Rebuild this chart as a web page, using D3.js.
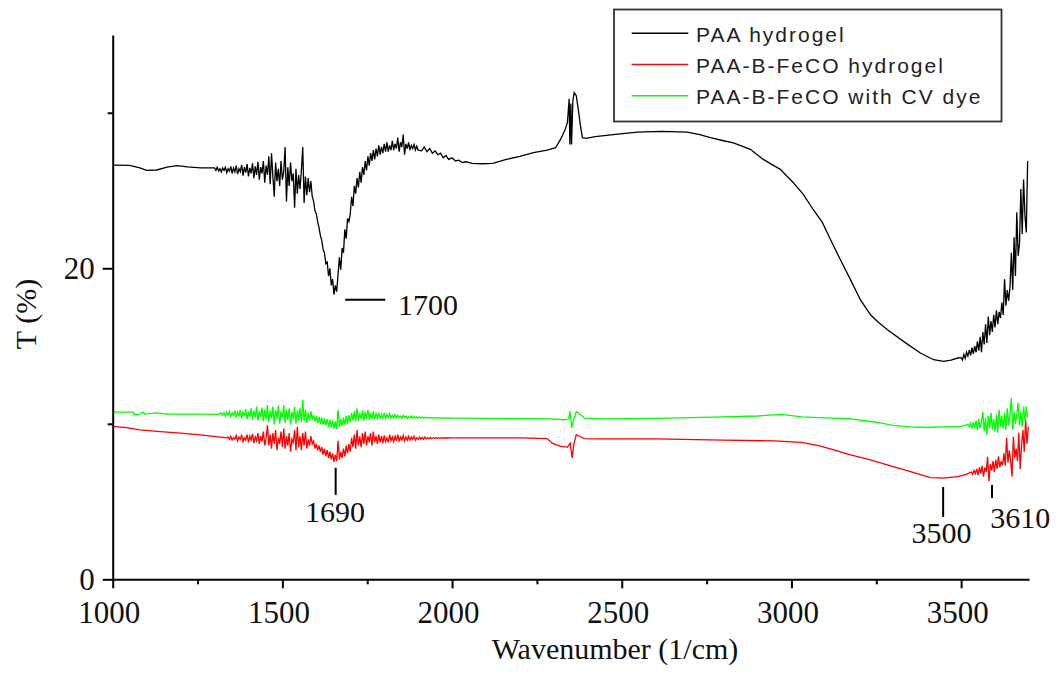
<!DOCTYPE html>
<html>
<head>
<meta charset="utf-8">
<script src="https://cdn.jsdelivr.net/npm/d3@7"></script>
<style>
  body { margin: 0; background: #fff; }
  svg { display: block; }
</style>
</head>
<body>
<svg id="drawing_region"></svg>
<script>
// FTIR spectra.
// smooth stretches: [wavenumber (1/cm), T (%)]; noisy stretches: runs sampled every `step` 1/cm
const paaPoints = [
  [1000,26.63],[1050,26.62],[1080,26.45],[1100,26.3],[1130,26.32],[1160,26.5],[1190,26.6],[1220,26.52],[1260,26.45],[1290,26.45],
  [1910,27.55],[1918,27.8],[1926,27.5],[1934,27.7],[1942,27.4],[1950,27.55],[1958,27.3],[1966,27.4],[1974,27.1],[1982,27.25],
  [1990,27.0],[2000,27.1],[2010,26.9],[2020,26.95],[2030,26.8],[2040,26.85],[2060,26.75],[2090,26.72],[2120,26.75],[2160,27.0],
  [2200,27.2],[2240,27.43],[2280,27.6],[2305,27.75],[2320,28.3],[2333,28.9],[2340,29.4],[2345,30.9],[2347,27.96],[2350,30.6],
  [2352,27.96],[2356,30.8],[2360,31.3],[2366,31.1],[2372,30.2],[2378,29.2],[2384,28.4],[2395,28.35],[2422,28.46],[2475,28.6],
  [2546,28.76],[2620,28.8],[2693,28.76],[2730,28.6],[2761,28.4],[2800,28.2],[2829,28.07],[2879,27.65],[2917,27.0],[2967,26.36],
  [3005,25.52],[3035,24.75],[3064,23.78],[3091,22.95],[3115,21.85],[3144,20.56],[3174,19.27],[3203,17.98],[3233,17.01],[3255,16.55],
  [3283,16.05],[3330,15.3],[3380,14.55],[3419,14.12],[3448,14.01],[3470,14.1],[3490,14.23]
];
const paaRuns = [
  { from: 1300, step: 4, t: [
    26.45,26.3,26.5,26.25,26.4,26.2,26.45,26.3,26.5,26.15,26.4,26.25,26.55,26.1,26.45,26.2,26.6,26.05,26.4,26.2,
    26.65,25.95,26.5,26.15,26.7,25.9,26.45,26.1,26.75,25.8,26.55,26.0,26.85,25.7,26.5,26.1,26.9,25.5,26.6,26.0,
    27.2,25.4,27.4,25.9,24.6,26.8,25.6,26.4,25.3,26.9,25.7,26.2,27.8,24.3,26.5,25.3,26.8,25.6,26.1,23.9,
    26.4,24.8,26.0,25.1,26.3,27.8,24.2,25.9,24.7,25.8,24.9,25.6,24.6] },
  { from: 1592, step: 4, t: [
    24.3,23.7,23.5,23.0,22.6,22.1,21.8,21.2,21.0,20.3,20.4,19.5,20.0,18.9,19.3,18.3,18.9,18.5,19.6,20.7,
    19.9,21.3,21.0,22.5,21.9,23.2,23.0,23.5,24.6,24.0,25.3,24.8,25.8,25.2,26.2,25.5,26.5,26.0,26.9,26.3,
    27.2,26.6,27.4,26.9,27.6,27.0,27.7,27.2,27.9,27.3,27.8,27.4,28.0,27.5,28.1,27.5,27.9,27.6,28.2,27.6,
    28.0,27.7,28.4,27.5,28.1,27.8,28.6,27.3,28.0,27.7,28.1,27.6,27.9,27.7,27.95,27.6,27.85,27.6] },
  { from: 3500, step: 4, t: [
    14.25,14.1,14.45,14.2,14.6,14.35,14.75,14.4,14.9,14.5,15.0,14.6,15.3,14.7,15.6,14.6,15.9,15.1,16.4,15.2,
    16.9,15.7,16.6,15.9,17.0,16.2,17.3,16.4,17.2,16.8,17.8,17.0,19.3,17.6,18.6,17.9,18.8,21.0,18.6,22.0,
    19.5,23.6,20.8,21.6,25.1,22.2,25.7,23.4,22.3,26.9] }
];

const fecoPoints = [
  [1000,9.83],[1040,9.75],[1080,9.61],[1140,9.5],[1200,9.4],[1257,9.29],[1290,9.2],[1316,9.14],[1336,9.1],
  [2000,9.1],[2100,9.1],[2200,9.1],[2280,9.05],[2295,8.75],[2320,8.55],[2340,8.5],[2348,8.75],[2354,7.8],[2358,8.6],[2366,9.3],
  [2375,9.2],[2390,9.05],[2440,9.03],[2600,9.03],[2800,8.95],[2950,8.9],[3030,8.8],[3080,8.6],[3120,8.35],[3174,8.0],
  [3233,7.68],[3292,7.3],[3351,6.93],[3410,6.54],[3448,6.5],[3490,6.6],[3515,6.75]
];
const fecoRuns = [
  { from: 1340, step: 4, t: [
    9.15,9.0,9.2,8.95,9.1,9.0,9.25,8.9,9.15,9.0,9.3,8.85,9.1,8.95,9.3,8.8,9.2,8.95,9.35,8.75,
    9.15,8.9,9.4,8.7,9.2,8.85,9.5,8.6,9.1,9.9,8.6,9.3,8.4,9.4,8.7,9.6,8.3,9.1,8.7,9.5,
    8.5,9.7,8.4,9.2,8.6,9.4,8.2,9.0,8.8,9.6,8.3,9.8,8.5,9.2,8.3,9.4,8.6,9.5,8.4,9.0,
    8.6,9.2,8.7,8.9,8.4,8.7,8.3,8.6,8.2,8.5,8.0,8.4,7.9,8.3,7.8,8.2,7.7,8.1,7.55,8.0,
    7.6,8.9,7.7,8.2,7.8,8.4,7.9,8.6,8.1,8.7,8.2,9.1,8.5,9.3,8.4,9.6,8.6,9.2,8.5,9.4,
    8.7,9.5,8.6,9.2,8.8,9.4,8.6,9.5,8.8,9.2,8.7,9.3,8.8,9.2,8.75,9.25,8.85,9.1,8.8,9.3,
    8.9,9.15,8.85,9.2,8.9,9.3,8.9,9.15,8.95,9.25,8.9,9.15,8.95,9.2,8.95,9.15,9.0,9.2,8.95,9.1,
    9.0,9.15,9.0,9.12,9.0,9.15,9.02,9.1,9.03,9.12,9.04,9.1,9.05,9.12,9.05,9.1,9.06,9.1,9.07,9.1,
    9.08,9.1,9.08,9.1,9.09] },
  { from: 3530, step: 4, t: [
    6.9,6.75,7.0,6.8,7.1,6.7,7.2,6.8,7.3,6.6,7.2,6.9,7.87,6.3,7.4,7.0,7.6,6.9,7.7,7.1,
    7.9,7.2,7.6,7.3,8.1,7.3,9.1,7.5,8.3,7.6,6.6,9.16,7.8,8.4,7.6,9.42,7.1,8.6,9.6,8.2,
    10.26,8.7,9.8] }
];

const cvPoints = [
  [1000,10.75],[1060,10.75],[1065,10.6],[1080,10.62],[1090,10.75],[1095,10.62],[1130,10.7],[1160,10.62],[1200,10.62],[1260,10.62],
  [1310,10.6],
  [2000,10.37],[2100,10.35],[2200,10.33],[2290,10.32],[2330,10.26],[2343,10.3],[2348,10.79],[2352,9.74],[2356,10.1],[2366,10.79],
  [2378,10.6],[2390,10.37],[2440,10.32],[2600,10.35],[2800,10.45],[2900,10.5],[2970,10.6],[3030,10.45],[3100,10.38],[3174,10.32],
  [3250,10.1],[3300,9.9],[3350,9.8],[3400,9.76],[3450,9.8],[3500,9.83]
];
const cvRuns = [
  { from: 1320, step: 4, t: [
    10.7,10.55,10.72,10.5,10.75,10.55,10.8,10.45,10.7,10.55,10.85,10.4,10.75,10.5,10.9,10.35,10.8,10.5,10.95,10.3,
    10.8,10.45,11.0,10.25,10.85,10.4,11.1,10.2,10.8,10.45,11.05,10.15,10.9,10.3,11.2,10.1,10.85,10.35,11.1,9.95,
    10.9,10.3,11.15,10.0,10.8,10.4,11.2,10.05,10.9,10.25,11.0,9.95,10.75,10.3,11.1,10.0,10.85,10.2,11.0,10.1,
    11.54,10.2,10.9,10.05,10.7,10.2,10.8,10.25,10.55,10.15,10.5,10.05,10.45,10.0,10.4,9.95,10.35,9.9,10.3,9.8,
    10.25,9.75,10.2,9.7,10.15,9.65,10.9,9.8,10.3,9.85,10.4,9.95,10.5,10.0,10.55,10.1,10.7,10.2,10.8,10.15,
    11.0,10.2,10.7,10.3,10.85,10.2,10.75,10.3,10.9,10.25,10.7,10.3,10.8,10.3,10.65,10.35,10.7,10.3,10.6,10.35,
    10.7,10.35,10.6,10.4,10.65,10.35,10.55,10.4,10.6,10.35,10.55,10.4,10.5,10.35,10.55,10.4,10.5,10.35,10.48,10.38,
    10.5,10.36,10.46,10.37,10.45,10.36,10.44,10.37,10.43,10.36,10.42,10.37,10.41,10.37,10.4,10.37,10.4,10.37,10.39,10.37,
    10.39,10.37,10.38,10.37,10.38,10.37,10.38,10.37,10.38,10.37] },
  { from: 3520, step: 4, t: [
    9.95,9.8,10.05,9.75,10.1,9.7,10.2,9.6,10.3,9.7,10.1,10.79,9.5,10.4,9.3,10.5,9.7,10.7,9.6,10.3,
    9.5,10.6,9.42,10.9,9.8,10.5,9.7,10.7,9.6,11.0,9.9,10.6,11.67,9.6,10.8,10.0,10.6,11.35,9.9,10.8,
    9.81,11.1,10.2,11.1,10.4] }
];

const seriesNames = ["PAA hydrogel", "PAA-B-FeCO hydrogel", "PAA-B-FeCO with CV dye"];
const seriesColors = ["#000000", "#ff0000", "#00ff00"];

const xMajorTicks = [1000, 1500, 2000, 2500, 3000, 3500];
const xMinorTicks = [1250, 1750, 2250, 2750, 3250];
const yMajorTicks = [0, 20];
const yMinorTicks = [10, 30];

// peak marks: leader line and label position, in data units
const peakMarks = [
  { label: "1700", x1: 1685, y1: 17.98, x2: 1803, y2: 17.98, tx: 1841, ty: 17.02, anchor: "start" },
  { label: "1690", x1: 1657, y1: 7.17, x2: 1657, y2: 5.43, tx: 1655, ty: 3.69, anchor: "middle" },
  { label: "3500", x1: 3447, y1: 5.94, x2: 3447, y2: 4.01, tx: 3442, ty: 2.34, anchor: "middle" },
  { label: "3610", x1: 3591, y1: 6.07, x2: 3591, y2: 5.23, tx: 3586, ty: 3.30, anchor: "start" }
];

// join the smooth points and the sampled runs into one sorted series
function buildSeries(points, runs) {
  let out = points.slice();
  runs.forEach(r => {
    r.t.forEach((v, i) => out.push([r.from + i * r.step, v]));
  });
  return out.sort((a, b) => a[0] - b[0]);
}

const series = [
  buildSeries(paaPoints, paaRuns),
  buildSeries(fecoPoints, fecoRuns),
  buildSeries(cvPoints, cvRuns)
];

const config = {
  width: 1060,
  height: 673,
  left: 112.7, right: 1029, top: 35, bottom: 579.3
};

const svg = d3.select('#drawing_region')
  .attr('width', config.width)
  .attr('height', config.height);

const xscale = d3.scaleLinear().domain([1000, 3700]).range([config.left, config.right]);
const yscale = d3.scaleLinear().domain([0, 35]).range([config.bottom, config.top]);

const serif = "'Liberation Serif', 'Times New Roman', serif";
const sans = "'Liberation Sans', Arial, sans-serif";

// curves
const line = d3.line().x(d => xscale(d[0])).y(d => yscale(d[1]));
series.forEach((s, i) => {
  svg.append('path')
    .datum(s)
    .attr('fill', 'none')
    .attr('stroke', seriesColors[i])
    .attr('stroke-width', 1.3)
    .attr('d', line);
});

// x axis
const xMinor = svg.append('g')
  .attr('transform', `translate(0, ${config.bottom})`)
  .call(d3.axisBottom(xscale).tickValues(xMinorTicks).tickSize(5).tickFormat(''));
xMinor.select('.domain').remove();

const xAxis = svg.append('g')
  .attr('transform', `translate(0, ${config.bottom})`)
  .call(d3.axisBottom(xscale).tickValues(xMajorTicks).tickSize(9).tickSizeOuter(0).tickPadding(13).tickFormat(d3.format('d')));
xAxis.selectAll('text').attr('dx', -4);

// y axis
const yMinor = svg.append('g')
  .attr('transform', `translate(${config.left}, 0)`)
  .call(d3.axisLeft(yscale).tickValues(yMinorTicks).tickSize(5).tickFormat(''));
yMinor.select('.domain').remove();

const yAxis = svg.append('g')
  .attr('transform', `translate(${config.left}, 0)`)
  .call(d3.axisLeft(yscale).tickValues(yMajorTicks).tickSize(10).tickSizeOuter(0).tickPadding(8));

[xMinor, xAxis, yMinor, yAxis].forEach(g => {
  g.selectAll('line').attr('stroke', '#000').attr('stroke-width', 2);
  g.selectAll('.domain').attr('stroke', '#000').attr('stroke-width', 2);
  g.selectAll('text')
    .attr('fill', '#111')
    .style('font-family', serif)
    .style('font-size', '31px');
});

// axis titles
svg.append('text')
  .attr('x', 615)
  .attr('y', 659)
  .attr('text-anchor', 'middle')
  .attr('fill', '#111')
  .style('font-family', serif)
  .style('font-size', '30px')
  .text('Wavenumber (1/cm)');

svg.append('text')
  .attr('transform', 'translate(36, 314) rotate(-90)')
  .attr('text-anchor', 'middle')
  .attr('fill', '#111')
  .style('font-family', serif)
  .style('font-size', '30px')
  .text('T (%)');

// peak annotations
peakMarks.forEach(p => {
  svg.append('line')
    .attr('x1', xscale(p.x1)).attr('y1', yscale(p.y1))
    .attr('x2', xscale(p.x2)).attr('y2', yscale(p.y2))
    .attr('stroke', '#000')
    .attr('stroke-width', 2);
  svg.append('text')
    .attr('x', xscale(p.tx))
    .attr('y', yscale(p.ty))
    .attr('text-anchor', p.anchor)
    .attr('fill', '#111')
    .style('font-family', serif)
    .style('font-size', '30px')
    .text(p.label);
});

// legend
const legend = svg.append('g');
legend.append('rect')
  .attr('x', 614).attr('y', 9.5)
  .attr('width', 387.5).attr('height', 112)
  .attr('fill', '#fff')
  .attr('stroke', '#333')
  .attr('stroke-width', 1.8);

seriesNames.forEach((name, i) => {
  const ly = 33.3 + i * 31.2;
  legend.append('line')
    .attr('x1', 631.7).attr('x2', 688.3)
    .attr('y1', ly).attr('y2', ly)
    .attr('stroke', seriesColors[i])
    .attr('stroke-width', 1.5);
  legend.append('text')
    .attr('x', 696)
    .attr('y', ly + 8.3)
    .attr('fill', '#222')
    .style('font-family', sans)
    .style('font-size', '21px')
    .style('letter-spacing', '2px')
    .text(name);
});
</script>
</body>
</html>
